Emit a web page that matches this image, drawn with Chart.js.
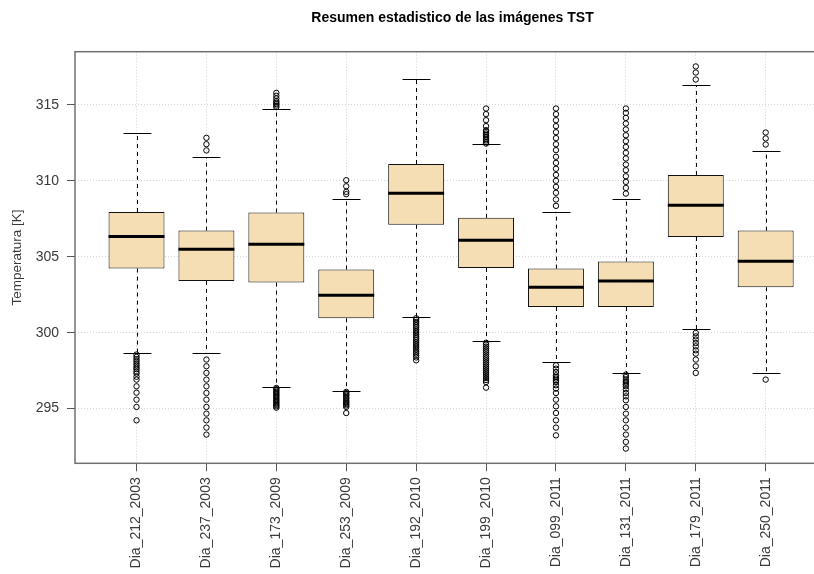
<!DOCTYPE html>
<html>
<head>
<meta charset="utf-8">
<title>Resumen estadistico de las imágenes TST</title>
<script src="https://cdn.jsdelivr.net/npm/chart.js@4/dist/chart.umd.min.js"></script>
<style>
  html, body { margin: 0; padding: 0; background: #fff; overflow: hidden; }
  #wrap { width: 840px; height: 574px; position: relative; }
</style>
</head>
<body>
<div id="wrap"><canvas id="chart"></canvas></div>
<script>
// Scene days
const categories = ['Dia_212_2003', 'Dia_237_2003', 'Dia_173_2009', 'Dia_253_2009', 'Dia_192_2010',
                    'Dia_199_2010', 'Dia_099_2011', 'Dia_131_2011', 'Dia_179_2011', 'Dia_250_2011'];

// Five-number summaries of surface temperature [K]
const whiskerHigh   = [313.16, 311.58, 314.76, 308.79, 316.67, 312.39, 307.95, 308.79, 316.34, 311.99];
const upperQuartile = [307.95, 306.72, 307.91, 304.16, 311.11, 307.56, 304.22, 304.68, 310.39, 306.72];
const medians       = [306.33, 305.49, 305.82, 302.46, 309.18, 306.09, 302.99, 303.41, 308.39, 304.70];
const lowerQuartile = [304.22, 303.41, 303.30, 300.95, 307.10, 304.26, 301.69, 301.69, 306.30, 302.99];
const whiskerLow    = [298.66, 298.66, 296.42, 296.16, 301.01, 299.43, 298.07, 297.33, 300.25, 297.33];

// Values outside the whiskers, one list per day
const outliers = [
  [298.56, 298.40, 298.25, 298.12, 297.98, 297.85, 297.72, 297.60, 297.45, 297.31, 297.10, 296.91, 296.47, 296.05, 295.59, 295.11, 294.23],
  [312.00, 312.41, 312.83, 298.23, 297.79, 297.35, 296.91, 296.47, 296.03, 295.59, 295.11, 294.67, 294.23, 293.75, 293.29],
  [314.85, 314.95, 315.05, 315.15, 315.25, 315.42, 315.60, 315.79,
   296.36, 296.28, 296.19, 296.10, 296.02, 295.93, 295.85, 295.76, 295.67, 295.58, 295.50, 295.41, 295.32, 295.24, 295.15, 295.06],
  [309.12, 309.27, 309.64, 310.04,
   296.10, 296.02, 295.93, 295.85, 295.74, 295.66, 295.55, 295.47, 295.38, 295.30, 295.21, 295.11, 294.71],
  [300.95, 300.84, 300.71, 300.60, 300.47, 300.36, 300.22, 300.11, 299.98, 299.86, 299.73, 299.62, 299.50, 299.37, 299.25,
   299.12, 299.00, 298.87, 298.74, 298.62, 298.49, 298.37, 298.18],
  [312.45, 312.55, 312.66, 312.77, 312.89, 313.00, 313.11, 313.22, 313.33, 313.60, 313.99, 314.39, 314.76,
   299.34, 299.21, 299.08, 298.95, 298.82, 298.70, 298.56, 298.43, 298.31, 298.18, 298.05, 297.92, 297.79, 297.66,
   297.53, 297.40, 297.27, 297.14, 297.01, 296.88, 296.75, 296.38],
  [308.35, 308.77, 309.21, 309.60, 310.00, 310.39, 310.79, 311.18, 311.58, 312.02, 312.41, 312.81, 313.20, 313.60, 313.99, 314.39, 314.76,
   297.85, 297.63, 297.41, 297.19, 297.08, 296.98, 296.86, 296.75, 296.54, 296.32, 296.03, 295.59, 295.15, 294.71, 294.23, 293.75, 293.24],
  [309.16, 309.53, 309.93, 310.30, 310.70, 311.07, 311.47, 311.84, 312.23, 312.61, 313.00, 313.38, 313.77, 314.14, 314.47, 314.76,
   297.24, 297.08, 296.91, 296.80, 296.70, 296.58, 296.47, 296.27, 296.03, 295.81, 295.55, 295.11, 294.67, 294.23, 293.75, 293.29, 292.81, 292.37],
  [316.67, 317.13, 317.53, 299.98, 299.76, 299.55, 299.32, 299.10, 298.84, 298.62, 298.23, 297.79, 297.35],
  [312.39, 312.79, 313.18, 296.91]
];

const yTicks = [295, 300, 305, 310, 315];

const FONT = "'Liberation Sans', Arial, Helvetica, sans-serif";
Chart.defaults.font.family = FONT;

const boxData = categories.map((c, i) => ({ x: i + 1, y: [lowerQuartile[i], upperQuartile[i]] }));
const outlierData = outliers.flatMap((list, i) => list.map(v => ({ x: i + 1, y: v })));

function strokeLine(ctx, x1, y1, x2, y2) {
  ctx.beginPath();
  ctx.moveTo(x1, y1);
  ctx.lineTo(x2, y2);
  ctx.stroke();
}

// Whiskers, staples, medians and the frame around the plot region
const boxplotParts = {
  id: 'boxplotParts',
  beforeDatasetsDraw(chart) {
    const { ctx, scales: { x, y } } = chart;
    const bars = chart.getDatasetMeta(0).data;
    ctx.save();
    ctx.strokeStyle = '#000';
    ctx.lineWidth = 1;
    categories.forEach((c, i) => {
      const cx = Math.round(x.getPixelForValue(i + 1)) + 0.5;
      const half = bars[i].width / 4;
      const yHi = Math.round(y.getPixelForValue(whiskerHigh[i])) + 0.5;
      const yLo = Math.round(y.getPixelForValue(whiskerLow[i])) + 0.5;
      ctx.setLineDash([4, 4]);
      strokeLine(ctx, cx, y.getPixelForValue(upperQuartile[i]), cx, yHi);
      strokeLine(ctx, cx, y.getPixelForValue(lowerQuartile[i]), cx, yLo);
      ctx.setLineDash([]);
      strokeLine(ctx, cx - half, yHi, cx + half, yHi);
      strokeLine(ctx, cx - half, yLo, cx + half, yLo);
    });
    ctx.restore();
  },
  afterDatasetDraw(chart, args) {
    if (args.index !== 0) return;
    const { ctx, scales: { y } } = chart;
    const bars = chart.getDatasetMeta(0).data;
    ctx.save();
    ctx.strokeStyle = '#000';
    ctx.lineWidth = 3;
    categories.forEach((c, i) => {
      const b = bars[i];
      const ym = y.getPixelForValue(medians[i]);
      strokeLine(ctx, b.x - b.width / 2, ym, b.x + b.width / 2, ym);
    });
    ctx.restore();
  },
  afterDraw(chart) {
    const { ctx, chartArea: a } = chart;
    ctx.save();
    ctx.strokeStyle = '#707070';
    ctx.lineWidth = 1.5;
    ctx.strokeRect(a.left, a.top, a.right - a.left, a.bottom - a.top);
    ctx.restore();
  }
};

const gridStyle = {
  color: '#d4d4d4',
  lineWidth: 1,
  drawTicks: true,
  tickLength: 8,
  tickColor: '#555',
  tickWidth: 1,
  tickBorderDash: [],
  offset: false
};

// dotted grid lines; the frame itself is drawn by the plugin
const borderStyle = { display: false, dash: [1, 2], dashOffset: 0 };

new Chart(document.getElementById('chart'), {
  type: 'bar',
  data: {
    datasets: [
      {
        label: 'Caja',
        data: boxData,
        backgroundColor: '#F5DEB3',
        borderColor: '#111',
        borderWidth: 1,
        borderSkipped: false,
        barPercentage: 0.8,
        categoryPercentage: 1.0
      },
      {
        type: 'scatter',
        label: 'Atipicos',
        data: outlierData,
        showLine: false,
        pointStyle: 'circle',
        pointRadius: 2.7,
        pointBorderWidth: 1,
        pointBackgroundColor: 'rgba(0,0,0,0)',
        pointBorderColor: '#000'
      }
    ]
  },
  options: {
    responsive: true,
    maintainAspectRatio: false,
    animation: false,
    events: [],
    layout: { padding: { left: 0, right: 10, top: 0, bottom: 0 } },
    plugins: {
      legend: { display: false },
      tooltip: { enabled: false },
      title: {
        display: true,
        text: 'Resumen estadistico de las imágenes TST',
        color: '#000',
        fullSize: false,
        font: { family: FONT, size: 14, weight: 'bold' },
        padding: { top: 9.6, bottom: 25.3 }
      }
    },
    scales: {
      x: {
        type: 'linear',
        min: 0.12,
        max: 10.92,
        offset: false,
        grid: gridStyle,
        border: borderStyle,
        afterBuildTicks(scale) {
          scale.ticks = categories.map((c, i) => ({ value: i + 1 }));
        },
        afterFit(scale) {
          scale.height = 110.7;
          scale.paddingLeft = 0;
          scale.paddingRight = 0;
        },
        ticks: {
          autoSkip: false,
          minRotation: 90,
          maxRotation: 90,
          padding: 6,
          color: '#3a3a3a',
          font: { family: FONT, size: 14 },
          callback: (v) => categories[Math.round(v) - 1] || ''
        }
      },
      y: {
        type: 'linear',
        min: 291.4,
        max: 318.5,
        grid: gridStyle,
        border: borderStyle,
        afterBuildTicks(scale) {
          scale.ticks = yTicks.map(v => ({ value: v }));
        },
        afterFit(scale) {
          scale.width = 75;
          scale.paddingTop = 0;
          scale.paddingBottom = 0;
        },
        ticks: {
          padding: 8,
          color: '#3a3a3a',
          font: { family: FONT, size: 14 },
          callback: (v) => String(v)
        },
        title: {
          display: true,
          text: 'Temperatura [K]',
          color: '#3a3a3a',
          font: { family: FONT, size: 13.5 },
          padding: { top: 9.4, bottom: 0 }
        }
      }
    }
  },
  plugins: [boxplotParts]
});
</script>
</body>
</html>
